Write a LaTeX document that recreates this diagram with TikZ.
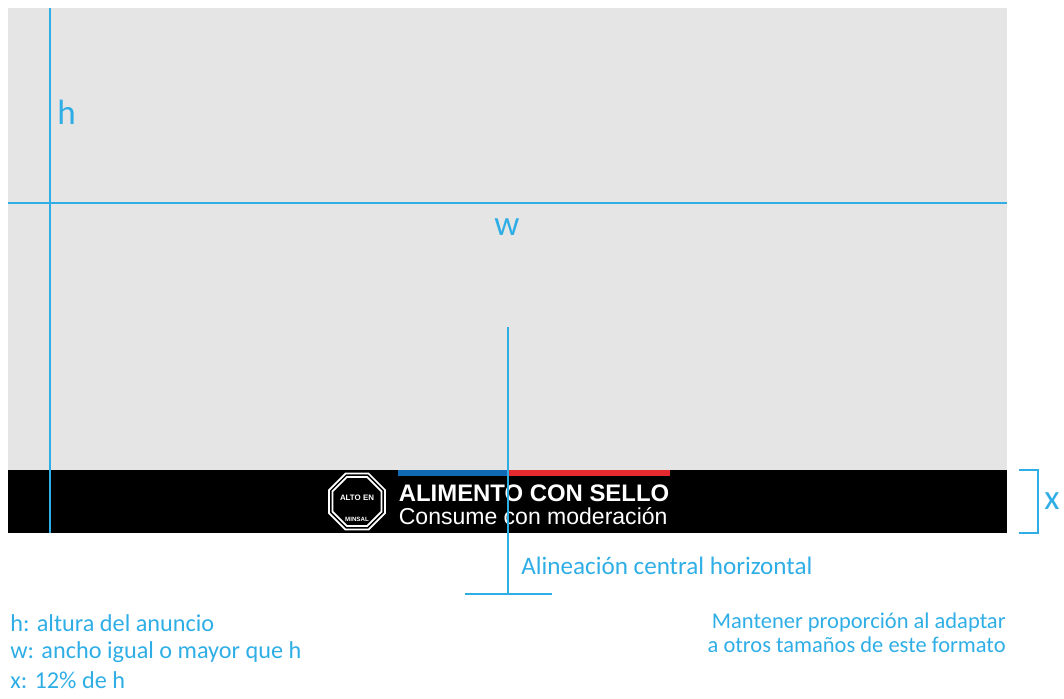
\documentclass[tikz,border=0pt]{standalone}
\usepackage{fontspec}
\setmainfont{Carlito}
\newfontfamily\sellofont{Liberation Sans}
\usepackage{tikz}
\usetikzlibrary{
	positioning
	,shapes.geometric
}
\definecolor{guia}{HTML}{2FAEE6}
\definecolor{fondo}{HTML}{E5E5E5}
\definecolor{franjaazul}{HTML}{0F69B4}
\definecolor{franjaroja}{HTML}{E52A2F}
\tikzset{
	guideline/.style={guia,line width=0.6pt},
	guidetext/.style={text=guia,inner sep=0pt,font=\fontsize{#1}{#1}\selectfont},
	lettertext/.style={text=guia,inner sep=0pt,font=\fontsize{20}{20}\selectfont},
	stoppoly/.style={draw=white,regular polygon,regular polygon sides=8,inner sep=0pt,line width=1pt},
}
\begin{document}
\begin{tikzpicture}[x=0.02cm,y=-0.02cm]
\useasboundingbox (0,0) rectangle (1064,698);
\fill[fondo] (8,8) rectangle (1007,470);
\fill[black] (8,470) rectangle (1007,533);
\fill[franjaazul] (398,470) rectangle (508,476);
\fill[franjaroja] (508,470) rectangle (670,476);
% sello
\node[stoppoly,minimum size=1.21cm] (sello) at (357,501.5) {};
\node[stoppoly,minimum size=1.06cm] (selloin) at (357,501.5) {};
\node[text=white,inner sep=0pt,font=\sellofont\bfseries\fontsize{4.5}{4.5}\selectfont] (altoen) at (357,497.5) {ALTO EN};
\node[text=white,inner sep=0pt,font=\sellofont\bfseries\fontsize{3.5}{3.5}\selectfont] (minsal) at (357,519.5) {MINSAL};
% textos del sello
\node[anchor=west,text=white,inner sep=0pt,font=\sellofont\bfseries\fontsize{13.6}{13.6}\selectfont] (alimento) at (398.5,493) {ALIMENTO CON SELLO};
\node[anchor=west,text=white,inner sep=0pt,font=\sellofont\fontsize{13.1}{13.1}\selectfont] (consume) at (398.5,516) {Consume con moderaci\'on};
% guias
\coordinate (hA) at (50,8);
\coordinate (hB) at (50,533);
\coordinate (wA) at (8,203);
\coordinate (wB) at (1007,203);
\coordinate (cA) at (508,327);
\coordinate (cB) at (508,594);
\coordinate (bA) at (465,594);
\coordinate (bB) at (552,594);
\coordinate (xA) at (1019,470);
\coordinate (xB) at (1038,470);
\coordinate (xC) at (1038,533);
\coordinate (xD) at (1019,533);
\draw[guideline] (hA)--(hB);
\draw[guideline] (wA)--(wB);
\draw[guideline] (cA)--(cB);
\draw[guideline] (bA)--(bB);
\draw[guideline] (xA)--(xB)--(xC)--(xD);
\node[lettertext] (h) at (66.5,112) {h};
\node[lettertext] (w) at (507,227) {w};
\node[lettertext] (x) at (1052,501) {x};
\node[guidetext=14.3,anchor=west] (alineacion) at (521,565.5) {Alineaci\'on central horizontal};
\node[guidetext=13.8,anchor=west] (alturatxt) at (10,623) {h: altura del anuncio};
\node[guidetext=13.8,anchor=west] (anchotxt) at (10,652.5) {w: ancho igual o mayor que h};
\node[guidetext=13.8,anchor=west] (doce) at (10,680.5) {x: 12\% de h};
\node[guidetext=12.8,anchor=east] (mantener) at (1006,622.5) {Mantener proporci\'on al adaptar};
\node[guidetext=12.8,anchor=east] (otros) at (1006,645) {a otros tama\~nos de este formato};
\end{tikzpicture}
\end{document}
